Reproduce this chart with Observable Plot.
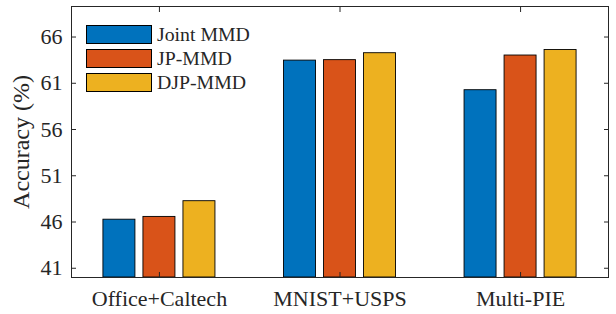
<!DOCTYPE html>
<html>
<head>
<meta charset="utf-8">
<script src="https://cdn.jsdelivr.net/npm/d3@7"></script>
<script src="https://cdn.jsdelivr.net/npm/@observablehq/plot@0.6"></script>
<style>
  html, body { margin: 0; padding: 0; background: #fff; }
  #wrap { position: relative; width: 616px; height: 314px; font-family: "Liberation Serif", "Times New Roman", serif; }
  #legend { position: absolute; left: 86px; top: 22px; }
  .item { display: flex; align-items: center; height: 24px; }
  .sw { width: 64px; height: 17px; border: 1px solid #000; box-sizing: content-box; margin-right: 5px; }
  .lab { font-size: 19.8px; color: #262626; line-height: 19px; }
</style>
</head>
<body>
<div id="wrap"></div>
<script>
const categories = ["Office+Caltech", "MNIST+USPS", "Multi-PIE"];
const series = ["Joint MMD", "JP-MMD", "DJP-MMD"];
const jointMMD = [46.25, 63.45, 60.25];
const jpMMD = [46.55, 63.5, 64.0];
const djpMMD = [48.25, 64.25, 64.6];
const colors = ["#0072BD", "#D95319", "#EDB120"];
const yTicks = [41, 46, 51, 56, 61, 66];
const yDomain = [40, 69.3];

const values = [jointMMD, jpMMD, djpMMD];
const rows = [];
categories.forEach((c, i) => {
  series.forEach((s, j) => {
    const center = i + 1 + (j - 1) * 0.2216;
    rows.push({category: c, series: s, x1: center - 0.0886, x2: center + 0.0886, value: values[j][i]});
  });
});

const ink = "#262626";
const chart = Plot.plot({
  width: 616,
  height: 314,
  marginLeft: 71,
  marginRight: 8,
  marginTop: 6,
  marginBottom: 37,
  style: {fontFamily: "Liberation Serif, Times New Roman, serif", color: ink, background: "white"},
  x: {type: "linear", domain: [0.513, 3.487]},
  y: {domain: yDomain},
  color: {domain: series, range: colors},
  marks: [
    Plot.rect(rows, {x1: "x1", x2: "x2", y1: yDomain[0], y2: "value", fill: "series", stroke: "#000", strokeWidth: 0.9}),
    Plot.frame({stroke: ink, strokeWidth: 1}),
    Plot.axisY({anchor: "left", ticks: yTicks, tickSize: -5, tickPadding: 14, fontSize: 22, stroke: ink,
      label: "Accuracy (%)", labelAnchor: "center", labelArrow: "none", labelOffset: 60}),
    Plot.axisY({anchor: "right", ticks: yTicks, tickSize: -5, tickFormat: () => "", label: null, stroke: ink}),
    Plot.axisX({anchor: "bottom", ticks: [1, 2, 3], tickSize: -5, tickPadding: 18, fontSize: 22, stroke: ink,
      tickFormat: d => categories[d - 1], label: null}),
    Plot.axisX({anchor: "top", ticks: [1, 2, 3], tickSize: -5, tickFormat: () => "", label: null, stroke: ink})
  ]
});
const wrap = document.getElementById("wrap");
wrap.appendChild(chart);
chart.querySelectorAll("[aria-label='y-axis label'] text, g[aria-label='y-axis label']").forEach(el => el.setAttribute("font-size", "24"));

const legend = document.createElement("div");
legend.id = "legend";
series.forEach((s, j) => {
  const it = document.createElement("div");
  it.className = "item";
  const sw = document.createElement("div");
  sw.className = "sw";
  sw.style.background = colors[j];
  const lab = document.createElement("span");
  lab.className = "lab";
  lab.textContent = s;
  it.appendChild(sw); it.appendChild(lab);
  legend.appendChild(it);
});
wrap.appendChild(legend);
</script>
</body>
</html>
